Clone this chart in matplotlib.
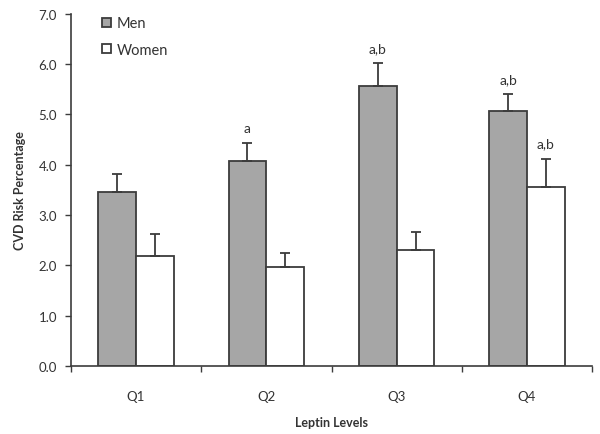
import numpy as np
import matplotlib.pyplot as plt

plt.rcParams['font.family'] = ['Lato', 'DejaVu Sans']

quartiles = ['Q1', 'Q2', 'Q3', 'Q4']
men = [3.45, 4.08, 5.56, 5.06]
men_err = [0.37, 0.35, 0.46, 0.35]
women = [2.18, 1.96, 2.31, 3.55]
women_err = [0.45, 0.29, 0.36, 0.57]
men_marks = ['', 'a', 'a,b', 'a,b']
women_marks = ['', '', '', 'a,b']

dark = '#3c3c3c'
txt = '#333333'

fig = plt.figure(figsize=(6, 4.35), dpi=100)
ax = fig.add_axes([0.118, 0.156, 0.869, 0.81])

x = np.arange(len(quartiles))
w = 0.29
ax.bar(x - w/2, men, w, color='#a6a6a6', edgecolor=dark, linewidth=1.3,
       yerr=[np.zeros(4), men_err], capsize=3.5,
       error_kw=dict(ecolor=dark, elinewidth=1.3, capthick=1.3), label='Men', zorder=2)
ax.bar(x + w/2, women, w, color='white', edgecolor=dark, linewidth=1.3,
       yerr=[np.zeros(4), women_err], capsize=3.5,
       error_kw=dict(ecolor=dark, elinewidth=1.3, capthick=1.3), label='Women', zorder=2)

for i in range(4):
    if men_marks[i]:
        ax.text(x[i] - w/2, men[i] + men_err[i] + 0.3, men_marks[i], ha='center', va='center',
                fontsize=10, color=txt)
    if women_marks[i]:
        ax.text(x[i] + w/2, women[i] + women_err[i] + 0.3, women_marks[i], ha='center', va='center',
                fontsize=10, color=txt)

ax.set_xlim(-0.5, 3.5)
ax.set_ylim(0, 7)
ax.set_yticks(np.arange(0, 7.1, 1.0))
ax.set_yticklabels(['%.1f' % v for v in np.arange(0, 7.1, 1.0)])
ax.set_xticks(np.arange(-0.5, 3.6, 1.0))
ax.set_xticklabels([])
ax.set_xticks(x, minor=True)
ax.set_xticklabels(quartiles, minor=True)
ax.tick_params(axis='x', which='minor', length=0, pad=17, labelsize=9.5, labelcolor=txt)
ax.tick_params(axis='x', which='major', length=4, width=1, color=dark, direction='out')
ax.tick_params(axis='y', length=4, width=1, color=dark, labelsize=9.5, labelcolor=txt, pad=6)

for s in ['top', 'right']:
    ax.spines[s].set_visible(False)
for s in ['left', 'bottom']:
    ax.spines[s].set_color(dark)
    ax.spines[s].set_linewidth(1.2)

ax.set_ylabel('CVD Risk Percentage', fontsize=9, fontweight='bold', color=txt, labelpad=9)
ax.set_xlabel('Leptin Levels', fontsize=9, fontweight='bold', color=txt, labelpad=10)

leg = ax.legend(loc='upper left', bbox_to_anchor=(0.035, 1.03), frameon=False, fontsize=10.5,
                handlelength=0.6, handleheight=0.6, handletextpad=0.4, labelspacing=0.85,
                labelcolor=txt)

fig.savefig('out.png', dpi=100)
